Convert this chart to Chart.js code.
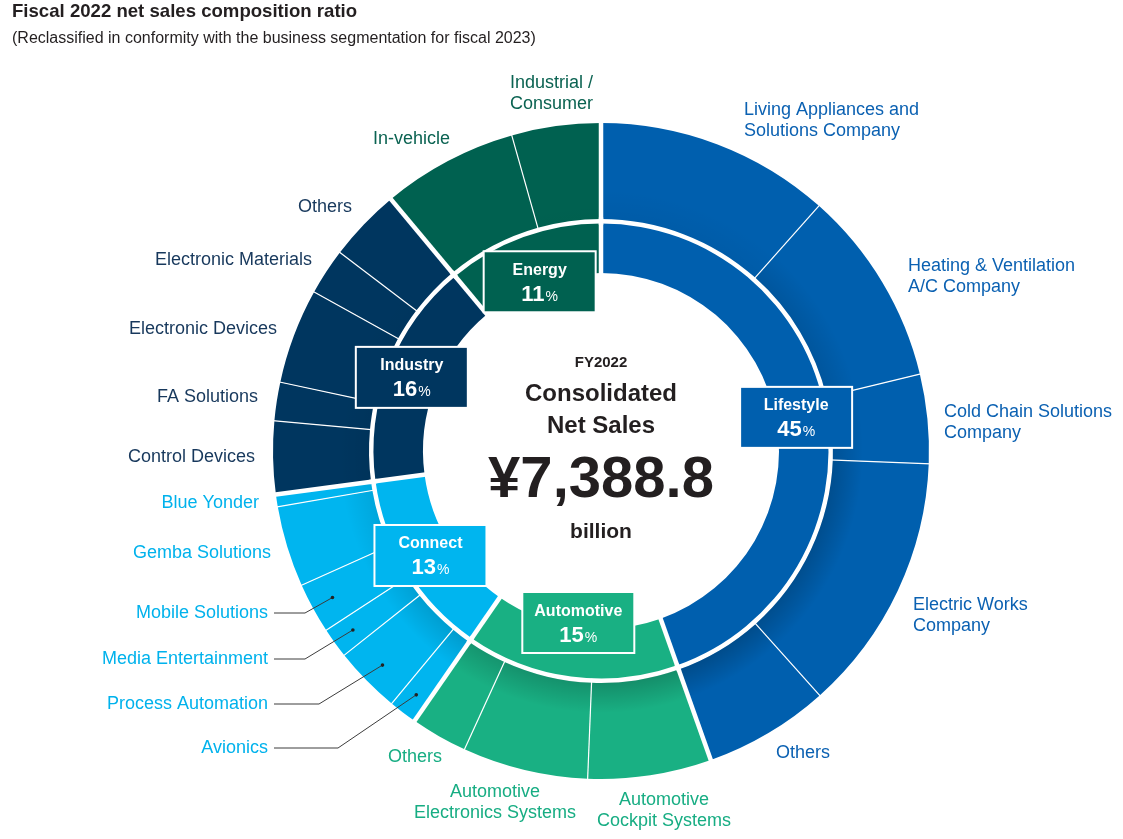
<!DOCTYPE html>
<html>
<head>
<meta charset="utf-8">
<script src="https://cdn.jsdelivr.net/npm/chart.js@4.4.1/dist/chart.umd.min.js"></script>
<style>
    html, body { margin: 0; padding: 0; background: #fff; }
    #wrap { position: relative; width: 1123px; height: 839px; overflow: hidden; }
    #chart { position: absolute; left: 0; top: 0; }
    .title { position: absolute; left: 12px; top: 1px; font: bold 18.6px/19px "Liberation Sans", Arial, Helvetica, sans-serif; color: #231f20; white-space: nowrap; }
    .subtitle { position: absolute; left: 12px; top: 30px; font: 16px/16px "Liberation Sans", Arial, Helvetica, sans-serif; color: #231f20; white-space: nowrap; }
</style>
</head>
<body>
<div id="wrap">
    <canvas id="chart" width="1123" height="839"></canvas>
    <div class="title">Fiscal 2022 net sales composition ratio</div>
    <div class="subtitle">(Reclassified in conformity with the business segmentation for fiscal 2023)</div>
</div>
<script>
const FONT = '"Liberation Sans", Arial, Helvetica, sans-serif';

// ==========================================
// 데이터 (inner ring = segment, outer ring = business)
// ==========================================
const segments = ['Lifestyle', 'Automotive', 'Connect', 'Industry', 'Energy'];
const segmentShares = [44.7, 15.1, 13.3, 16.1, 11.1];
const segmentPercents = ['45', '15', '13', '16', '11'];
const segmentColors = ['#005fae', '#19b083', '#00b5ef', '#00365f', '#006150'];
const labelColors = ['#0b61b2', '#17ad83', '#00b2ec', '#17385c', '#0b6352'];

const businesses = [
    'Living Appliances and\nSolutions Company', 'Heating & Ventilation\nA/C Company',
    'Cold Chain Solutions\nCompany', 'Electric Works\nCompany', 'Others',
    'Automotive\nCockpit Systems', 'Automotive\nElectronics Systems', 'Others',
    'Avionics', 'Process Automation', 'Media Entertainment', 'Mobile Solutions',
    'Gemba Solutions', 'Blue Yonder',
    'Control Devices', 'FA Solutions', 'Electronic Devices', 'Electronic Materials', 'Others',
    'In-vehicle', 'Industrial /\nConsumer'
];
const businessShares = [11.6, 9.7, 4.4, 12.8, 6.2, 6.1, 6.2, 2.8, 1.4, 3.3, 1.5, 2.5, 4.0, 0.6, 3.6, 1.9, 4.7, 2.3, 3.6, 6.7, 4.4];
const businessSegment = [0, 0, 0, 0, 0, 1, 1, 1, 2, 2, 2, 2, 2, 2, 3, 3, 3, 3, 3, 4, 4];

const centerLines = ['FY2022', 'Consolidated', 'Net Sales', '¥7,388.8', 'billion'];

// ==========================================
// 레이아웃 (label positions, box radius)
// ==========================================
const labelLayout = [
    { x: 744, y: 115, align: 'left' },
    { x: 908, y: 271, align: 'left' },
    { x: 944, y: 417, align: 'left' },
    { x: 913, y: 610, align: 'left' },
    { x: 776, y: 758, align: 'left' },
    { x: 664, y: 805, align: 'center' },
    { x: 495, y: 797, align: 'center' },
    { x: 388, y: 762, align: 'left' },
    { x: 268, y: 753, align: 'right', elbow: 338 },
    { x: 268, y: 709, align: 'right', elbow: 319 },
    { x: 268, y: 664, align: 'right', elbow: 305 },
    { x: 268, y: 618, align: 'right', elbow: 305 },
    { x: 271, y: 558, align: 'right' },
    { x: 259, y: 508, align: 'right' },
    { x: 255, y: 462, align: 'right' },
    { x: 258, y: 402, align: 'right' },
    { x: 277, y: 334, align: 'right' },
    { x: 312, y: 265, align: 'right' },
    { x: 352, y: 212, align: 'right' },
    { x: 373, y: 144, align: 'left' },
    { x: 510, y: 88, align: 'left' }
];
const boxRadius = [198, 173, 200, 203, 180];

// ==========================================
// 장식 플러그인: separators, shading, boxes, texts
// ==========================================
const ringDecor = {
    id: 'ringDecor',
    afterDatasetsDraw(chart) {
        const ctx = chart.ctx;
        const outer = chart.getDatasetMeta(0).data;
        const inner = chart.getDatasetMeta(2).data;
        const cx = outer[0].x, cy = outer[0].y;

        ctx.save();

        // soft shadow on the outer ring near its inner edge
        outer.forEach(arc => {
            const mid = (arc.startAngle + arc.endAngle) / 2 + Math.PI / 2; // from top
            const k = 0.5 + 0.5 * Math.cos(mid - 150 * Math.PI / 180);
            const g = ctx.createRadialGradient(cx, cy, arc.innerRadius, cx, cy, arc.innerRadius + 30);
            g.addColorStop(0, `rgba(0,0,0,${(0.2 * k).toFixed(3)})`);
            g.addColorStop(1, 'rgba(0,0,0,0)');
            ctx.beginPath();
            ctx.arc(cx, cy, arc.innerRadius + 30, arc.startAngle, arc.endAngle);
            ctx.arc(cx, cy, arc.innerRadius, arc.endAngle, arc.startAngle, true);
            ctx.closePath();
            ctx.fillStyle = g;
            ctx.fill();
        });

        const radial = (a, r0, r1, w) => {
            ctx.beginPath();
            ctx.moveTo(cx + r0 * Math.cos(a), cy + r0 * Math.sin(a));
            ctx.lineTo(cx + r1 * Math.cos(a), cy + r1 * Math.sin(a));
            ctx.lineWidth = w;
            ctx.strokeStyle = '#fff';
            ctx.stroke();
        };
        outer.forEach((arc, i) => {
            const major = i === 0 || businessSegment[i] !== businessSegment[i - 1];
            radial(arc.startAngle, arc.innerRadius - (major ? 6 : 4), arc.outerRadius + 2, major ? 4.5 : 1.2);
        });
        inner.forEach(arc => radial(arc.startAngle, arc.innerRadius - 1, arc.outerRadius + 6, 4.5));

        // segment boxes
        inner.forEach((arc, i) => {
            const mid = (arc.startAngle + arc.endAngle) / 2;
            const bx = cx + boxRadius[i] * Math.cos(mid);
            const by = cy + boxRadius[i] * Math.sin(mid);
            ctx.fillStyle = segmentColors[i];
            ctx.fillRect(bx - 56, by - 30.5, 112, 61);
            ctx.strokeStyle = '#fff';
            ctx.lineWidth = 2;
            ctx.strokeRect(bx - 56, by - 30.5, 112, 61);

            ctx.fillStyle = '#fff';
            ctx.textBaseline = 'alphabetic';
            ctx.textAlign = 'center';
            ctx.font = `bold 16px ${FONT}`;
            ctx.fillText(segments[i], bx, by - 7);

            ctx.font = `bold 22px ${FONT}`;
            const wNum = ctx.measureText(segmentPercents[i]).width;
            ctx.font = `14px ${FONT}`;
            const wPct = ctx.measureText('%').width;
            const x0 = bx - (wNum + wPct + 1) / 2;
            ctx.textAlign = 'left';
            ctx.font = `bold 22px ${FONT}`;
            ctx.fillText(segmentPercents[i], x0, by + 19);
            ctx.font = `14px ${FONT}`;
            ctx.fillText('%', x0 + wNum + 1, by + 19);
        });

        // center total
        ctx.fillStyle = '#231f20';
        ctx.textAlign = 'center';
        const centerStyle = [
            { font: `bold 15px ${FONT}`, dy: -84 },
            { font: `bold 24px ${FONT}`, dy: -50 },
            { font: `bold 24px ${FONT}`, dy: -18 },
            { font: `bold 58px ${FONT}`, dy: 46 },
            { font: `bold 21px ${FONT}`, dy: 87 }
        ];
        centerLines.forEach((t, i) => {
            ctx.font = centerStyle[i].font;
            ctx.fillText(t, cx, cy + centerStyle[i].dy);
        });

        // business labels + leader lines
        ctx.font = `18px ${FONT}`;
        businesses.forEach((name, i) => {
            const lay = labelLayout[i];
            ctx.fillStyle = labelColors[businessSegment[i]];
            ctx.textAlign = lay.align;
            name.split('\n').forEach((line, j) => ctx.fillText(line, lay.x, lay.y + j * 21));

            if (lay.elbow) {
                const arc = outer[i];
                const mid = (arc.startAngle + arc.endAngle) / 2;
                const r = arc.innerRadius + 0.77 * (arc.outerRadius - arc.innerRadius);
                const dx = cx + r * Math.cos(mid), dy = cy + r * Math.sin(mid);
                const ly = lay.y - 5;
                ctx.beginPath();
                ctx.moveTo(lay.x + 6, ly);
                ctx.lineTo(lay.elbow, ly);
                ctx.lineTo(dx, dy);
                ctx.strokeStyle = '#3c3c3c';
                ctx.lineWidth = 1;
                ctx.stroke();
                ctx.beginPath();
                ctx.arc(dx, dy, 1.8, 0, Math.PI * 2);
                ctx.fillStyle = '#222';
                ctx.fill();
            }
        });

        ctx.restore();
    }
};

// ==========================================
// Chart.js 초기화
// ==========================================
new Chart(document.getElementById('chart'), {
    type: 'doughnut',
    data: {
        labels: businesses,
        datasets: [
            { data: businessShares, backgroundColor: businessSegment.map(s => segmentColors[s]), borderWidth: 0, weight: 96 },
            { data: [1], backgroundColor: ['rgba(255,255,255,0)'], borderWidth: 0, weight: 4.5 },
            { data: segmentShares, backgroundColor: segmentColors, borderWidth: 0, weight: 49.5 }
        ]
    },
    options: {
        responsive: false,
        animation: false,
        events: [],
        radius: 328,
        cutout: '54.27%',
        layout: { padding: { left: 79, top: 63, right: 0, bottom: 0 } },
        plugins: { legend: { display: false }, tooltip: { enabled: false } }
    },
    plugins: [ringDecor]
});
</script>
</body>
</html>
